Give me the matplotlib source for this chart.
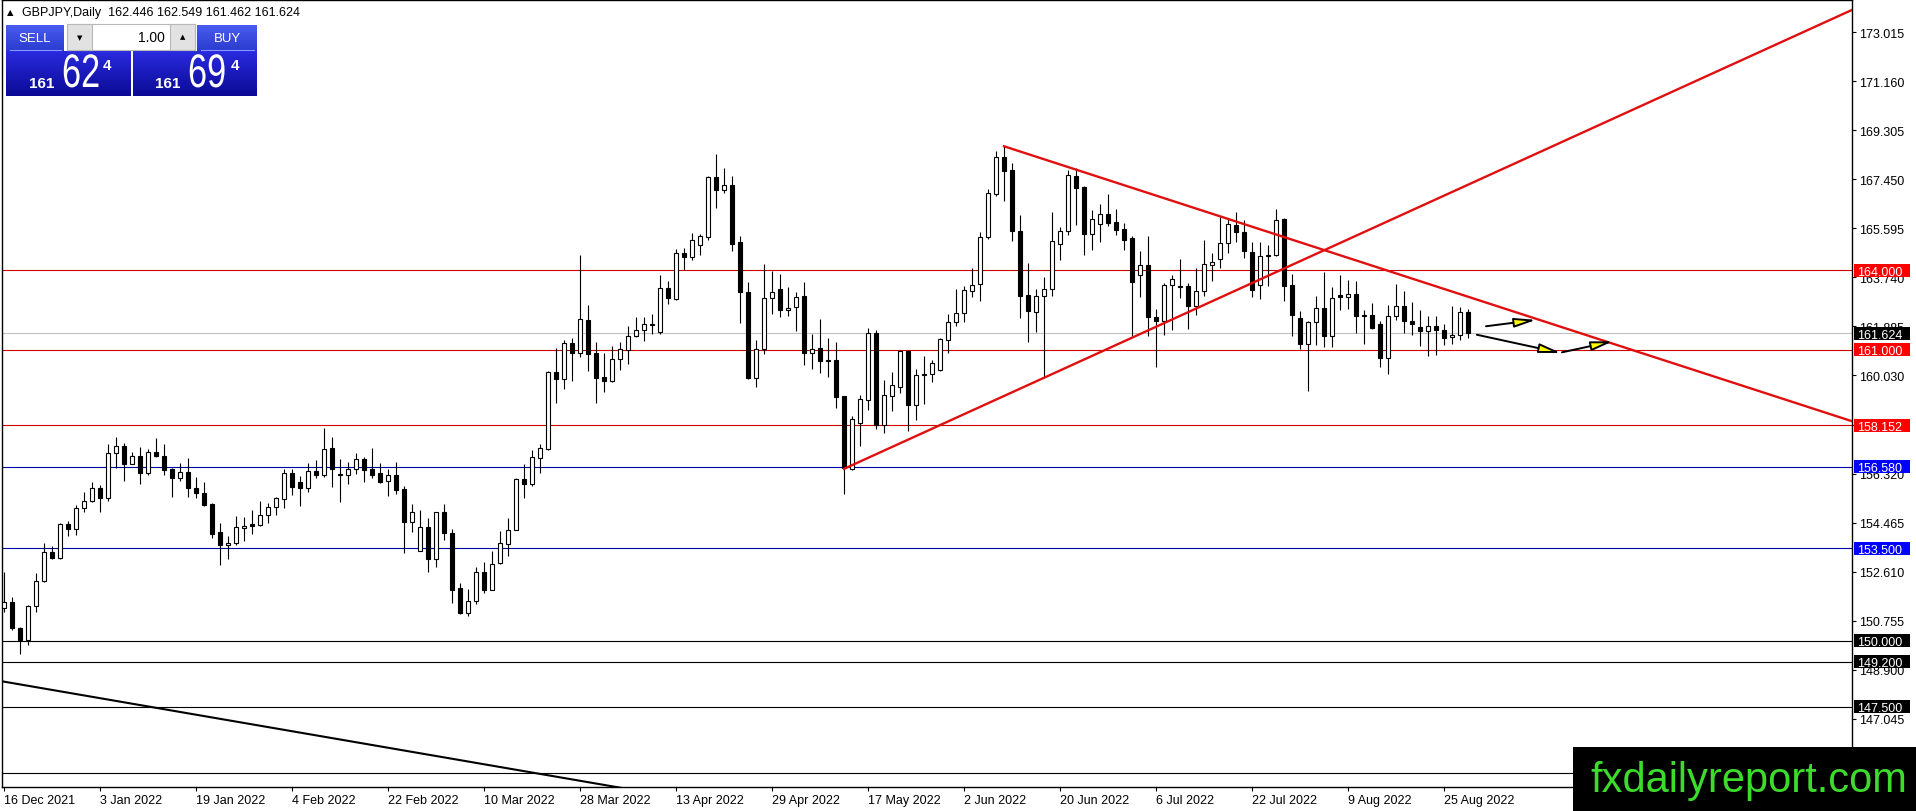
"""GBPJPY daily candlestick chart in a MetaTrader-like style."""

import numpy as np
import matplotlib

matplotlib.use("Agg")
import matplotlib.pyplot as plt
from matplotlib.colors import LinearSegmentedColormap
from matplotlib.font_manager import FontProperties
from matplotlib.patches import ArrowStyle, FancyArrowPatch, PathPatch, Rectangle
from matplotlib.textpath import TextPath
from matplotlib.transforms import Affine2D

plt.rcParams["font.family"] = ["Liberation Sans", "DejaVu Sans"]

symbol = "GBPJPY,Daily"
lot_size = "1.00"
ask_price = 161.694

opens = [
    151.228, 151.454, 150.472, 150.031, 151.328, 152.260, 153.369, 153.117,
    154.401, 154.225, 155.031, 155.295, 155.762, 155.409, 157.109, 157.373,
    156.681, 156.996, 156.353, 157.147, 156.996, 156.479, 156.164, 156.391,
    155.787, 155.598, 155.157, 154.099, 153.620, 153.709, 154.275, 154.401,
    154.376, 154.754, 155.069, 155.346, 156.328, 156.014, 155.787, 156.429,
    156.266, 157.298, 156.316, 156.266, 156.480, 156.883, 156.480, 156.354,
    156.052, 156.278, 155.724, 154.491, 153.395, 154.314, 153.093, 154.856,
    154.088, 152.010, 151.066, 151.519, 152.615, 151.922, 152.955, 153.672,
    154.188, 156.102, 155.926, 156.920, 157.235, 160.169, 159.892, 161.264,
    160.886, 162.145, 160.870, 159.961, 159.823, 160.643, 160.996, 161.539,
    161.766, 161.990, 161.690, 163.318, 162.915, 164.643, 164.492, 164.972,
    165.275, 167.521, 167.054, 167.218, 165.072, 163.192, 159.936, 161.047,
    162.940, 163.293, 162.511, 162.637, 163.028, 160.895, 161.085, 160.580,
    160.618, 159.255, 156.478, 158.245, 159.103, 161.627, 158.157, 159.268,
    159.608, 160.971, 158.914, 160.050, 160.080, 160.240, 161.375, 162.069,
    162.410, 163.230, 163.495, 165.262, 166.903, 168.278, 167.786, 165.477,
    163.054, 162.448, 163.016, 163.306, 165.010, 165.477, 167.559, 167.155,
    165.376, 165.767, 166.133, 165.830, 165.578, 165.224, 163.811, 164.215,
    162.233, 162.105, 163.460, 163.398, 163.398, 162.670, 163.209, 164.214,
    164.427, 165.054, 165.720, 165.468, 164.690, 163.435, 164.565, 164.590,
    165.933, 163.435, 162.205, 161.201, 162.042, 162.582, 161.540, 163.059,
    163.009, 163.109, 162.293, 162.331, 161.980, 160.674, 162.293, 162.645,
    162.080, 161.854, 161.729, 161.892, 161.741, 161.478, 161.578, 162.446,
]
highs = [
    152.613, 151.668, 150.535, 151.353, 152.550, 153.683, 153.583, 154.439,
    154.527, 155.132, 155.635, 155.988, 155.887, 157.424, 157.714, 157.462,
    157.147, 157.336, 157.248, 157.676, 157.424, 156.542, 156.706, 156.895,
    156.202, 156.013, 155.195, 154.464, 153.973, 154.729, 154.691, 154.943,
    155.295, 155.195, 155.447, 156.479, 156.479, 156.228, 156.706, 156.820,
    158.028, 157.688, 156.858, 156.769, 157.097, 156.958, 157.273, 156.706,
    156.480, 156.744, 155.863, 155.158, 154.944, 154.654, 154.881, 155.183,
    154.214, 152.199, 151.947, 152.778, 152.967, 153.395, 154.163, 154.654,
    156.140, 156.669, 157.210, 157.449, 160.206, 161.050, 161.352, 161.453,
    164.575, 162.700, 161.312, 160.870, 161.160, 161.287, 161.918, 162.233,
    162.258, 162.347, 163.836, 163.583, 164.808, 164.845, 165.413, 165.388,
    167.584, 168.404, 167.874, 167.559, 165.287, 163.558, 161.362, 164.240,
    163.987, 163.861, 163.369, 163.180, 163.558, 161.589, 162.157, 161.463,
    161.287, 159.267, 158.498, 159.293, 161.817, 161.754, 159.861, 160.176,
    160.997, 160.997, 160.265, 160.770, 160.618, 161.464, 162.347, 163.281,
    163.394, 164.089, 165.452, 167.080, 168.531, 168.695, 168.064, 166.083,
    164.278, 163.306, 163.735, 166.209, 165.653, 167.811, 167.875, 167.181,
    166.297, 166.512, 166.890, 166.322, 165.792, 165.287, 164.745, 165.287,
    162.549, 163.523, 163.837, 164.427, 163.523, 164.088, 165.155, 164.653,
    166.033, 165.970, 166.196, 165.908, 165.092, 165.067, 164.966, 166.309,
    165.996, 163.862, 162.456, 162.080, 163.021, 163.925, 163.360, 163.812,
    163.624, 163.586, 162.519, 162.770, 162.080, 162.707, 163.498, 163.209,
    162.795, 162.494, 162.268, 162.268, 161.980, 162.645, 162.607, 162.549,
]
lows = [
    151.076, 150.409, 149.502, 149.842, 151.076, 152.235, 153.092, 153.092,
    153.973, 153.998, 154.855, 155.258, 154.880, 155.283, 156.542, 156.039,
    156.668, 155.913, 156.265, 156.960, 156.265, 155.447, 156.039, 155.447,
    155.384, 155.094, 153.872, 152.865, 153.092, 153.620, 153.772, 154.023,
    154.351, 154.439, 154.754, 155.031, 155.510, 155.095, 155.636, 156.140,
    156.190, 155.800, 155.233, 155.926, 156.291, 155.989, 156.140, 155.951,
    155.473, 155.536, 153.320, 154.100, 153.395, 152.615, 152.804, 153.811,
    151.444, 151.016, 150.940, 151.381, 151.822, 151.922, 152.892, 153.219,
    154.188, 155.384, 155.863, 156.329, 157.197, 158.973, 159.514, 159.816,
    160.710, 160.214, 158.977, 159.419, 159.797, 160.239, 160.466, 161.476,
    161.350, 161.602, 161.602, 162.738, 162.889, 164.000, 164.404, 164.593,
    165.161, 166.360, 166.928, 164.744, 162.031, 159.898, 159.608, 160.845,
    162.347, 162.233, 162.284, 161.716, 160.428, 160.277, 160.113, 159.961,
    158.813, 155.532, 156.453, 157.374, 158.725, 158.005, 157.842, 158.687,
    159.356, 157.930, 158.346, 158.952, 159.773, 160.214, 160.896, 161.905,
    162.044, 162.991, 162.852, 165.199, 166.827, 166.638, 165.123, 162.196,
    161.300, 161.666, 159.949, 163.016, 164.404, 165.325, 165.729, 164.593,
    164.757, 165.073, 165.666, 165.325, 164.757, 161.527, 162.978, 161.539,
    160.366, 161.553, 161.766, 162.958, 161.804, 162.331, 163.046, 163.611,
    164.088, 164.653, 165.092, 164.464, 162.984, 162.933, 163.423, 164.565,
    162.833, 161.515, 161.038, 159.444, 161.176, 161.101, 161.101, 162.519,
    162.557, 161.641, 161.227, 161.779, 160.348, 160.072, 162.143, 161.641,
    161.578, 161.139, 160.762, 160.787, 161.164, 161.201, 161.352, 161.462,
]
closes = [
    151.454, 150.472, 150.031, 151.328, 152.273, 153.369, 153.117, 154.401,
    154.225, 155.031, 155.295, 155.787, 155.409, 157.109, 157.373, 156.681,
    156.996, 156.353, 157.147, 156.983, 156.454, 156.164, 156.391, 155.787,
    155.598, 155.132, 154.036, 153.620, 153.709, 154.313, 154.351, 154.351,
    154.754, 155.069, 155.384, 156.328, 155.799, 155.762, 156.429, 156.266,
    157.260, 156.492, 156.266, 156.480, 156.870, 156.455, 156.266, 156.014,
    156.278, 155.699, 154.491, 154.881, 154.314, 153.093, 154.856, 154.088,
    151.922, 151.041, 151.519, 152.615, 151.922, 152.917, 153.685, 154.188,
    156.102, 155.926, 156.958, 157.273, 160.169, 159.892, 161.264, 160.886,
    162.171, 160.836, 159.949, 159.823, 160.643, 161.022, 161.539, 161.766,
    161.981, 161.950, 163.318, 162.940, 164.643, 164.492, 165.136, 165.287,
    167.521, 167.054, 167.218, 165.009, 163.192, 159.936, 161.047, 162.940,
    163.167, 162.511, 162.599, 163.015, 160.895, 161.022, 160.580, 160.600,
    159.217, 156.516, 158.384, 159.129, 161.627, 158.157, 159.293, 159.672,
    160.971, 158.914, 160.050, 160.080, 160.517, 161.401, 162.069, 162.410,
    163.243, 163.432, 165.262, 166.928, 168.278, 167.774, 165.477, 163.041,
    162.473, 163.016, 163.306, 165.098, 165.477, 167.597, 167.117, 165.376,
    165.944, 166.133, 165.792, 165.540, 165.161, 163.546, 164.202, 162.233,
    162.107, 163.460, 163.674, 163.360, 162.670, 163.209, 164.239, 164.301,
    165.054, 165.745, 165.468, 164.753, 163.272, 164.565, 164.590, 165.908,
    163.423, 162.331, 161.201, 162.042, 162.582, 161.540, 162.958, 163.009,
    163.097, 162.293, 162.330, 161.829, 160.674, 162.268, 162.645, 162.080,
    161.992, 161.729, 161.892, 161.741, 161.452, 161.578, 162.419, 161.624,
]

# one date label every 12 daily bars, starting at the first bar
date_labels = [
    "16 Dec 2021", "3 Jan 2022", "19 Jan 2022", "4 Feb 2022", "22 Feb 2022",
    "10 Mar 2022", "28 Mar 2022", "13 Apr 2022", "29 Apr 2022", "17 May 2022",
    "2 Jun 2022", "20 Jun 2022", "6 Jul 2022", "22 Jul 2022", "9 Aug 2022",
    "25 Aug 2022",
]
date_step = 12

price_ticks = [
    173.015, 171.160, 169.305, 167.450, 165.595, 163.740, 161.885, 160.030,
    158.175, 156.320, 154.465, 152.610, 150.755, 148.900, 147.045,
]

levels = [164.000, 161.000, 158.152, 156.580, 153.500, 150.000, 149.200, 147.500, 145.000]
level_colors = ["#d00000", "#d00000", "#d00000", "#0000a8", "#0000a8",
                "black", "black", "black", "black"]
label_colors = ["#ff0000", "#ff0000", "#ff0000", "#0000ff", "#0000ff",
                "black", "black", "black", "black"]

# hand-drawn trend lines (bar index, price)
trend_up_x, trend_up_y = [105, 231], [156.50, 173.85]
trend_down_x, trend_down_y = [125, 231], [168.695, 158.30]
trend_black_x, trend_black_y = [-0.5, 80], [148.48, 144.29]

# projection arrows: (start bar, start price, end bar, end price)
arrows = [
    (185.25, 161.89, 191.5, 162.13),
    (184.1, 161.57, 194.6, 160.88),
    (194.75, 160.905, 201.1, 161.32),
]

W, H = 1916, 812
fig = plt.figure(figsize=(W / 100, H / 100), dpi=100, facecolor="white")
ax = fig.add_axes([2 / W, 1 - 788 / H, 1850 / W, 787 / H])
ax.set_xlim(-0.25, 231)
ax.set_ylim(144.471, 174.225)

n = len(closes)
x = np.arange(n)
o = np.array(opens)
c = np.array(closes)
up = c >= o

# horizontal levels and current price line
for lv, col in zip(levels, level_colors):
    ax.axhline(lv, color=col, lw=0.8, zorder=1)
ax.axhline(closes[-1], color="#c0c0c0", lw=0.8, zorder=1)

# candles
ax.vlines(x, lows, highs, color="black", lw=0.8, zorder=2)
ax.bar(x, np.abs(c - o), bottom=np.minimum(o, c), width=0.56,
       color=np.where(up, "white", "black"), edgecolor="black", lw=0.8, zorder=3)

# trend lines
ax.plot(trend_up_x, trend_up_y, color="#e01010", lw=1.7, zorder=4)
ax.plot(trend_down_x, trend_down_y, color="#e01010", lw=1.7, zorder=4)
ax.plot(trend_black_x, trend_black_y, color="black", lw=1.5, zorder=4)

head = ArrowStyle("-|>", head_length=13, head_width=2.8)
for x0, y0, x1, y1 in arrows:
    ax.add_patch(FancyArrowPatch((x0, y0), (x1, y1), arrowstyle=head, mutation_scale=1,
                                 shrinkA=0, shrinkB=0, lw=1.4, edgecolor="black",
                                 facecolor="#ffff00", zorder=5))

# axes styling
for sp in ax.spines.values():
    sp.set_color("black")
    sp.set_linewidth(1)
ax.yaxis.tick_right()
ax.set_yticks(price_ticks)
ax.set_yticklabels([f"{v:.3f}" for v in price_ticks])
ax.set_xticks(np.arange(len(date_labels)) * date_step)
ax.set_xticklabels(date_labels, ha="left")
ax.tick_params(axis="y", direction="out", length=3, pad=2, labelsize=9, colors="black")
ax.tick_params(axis="x", direction="out", length=3, pad=2, labelsize=9, colors="black")

# coloured price labels on the right scale
ytr = ax.get_yaxis_transform()
half = 6.5 / 26.45
box_x0 = (1854 - 2) / 1850
box_w = 56 / 1850
txt_x = (1857 - 2) / 1850
for lv, col in zip(levels + [closes[-1]], label_colors + ["black"]):
    ax.add_patch(Rectangle((box_x0, lv - half), box_w, 2 * half, transform=ytr,
                           facecolor=col, edgecolor="none", clip_on=False, zorder=6))
    ax.text(txt_x, lv, f"{lv:.3f}", transform=ytr, color="white", fontsize=9,
            ha="left", va="center_baseline", clip_on=False, zorder=7)

# overlay in pixel coordinates for the trading panel, header and watermark
ov = fig.add_axes([0, 0, 1, 1], zorder=10)
ov.patch.set_visible(False)
ov.axis("off")


def grad_box(x0, y0, x1, y1, top, bottom):
    cmap = LinearSegmentedColormap.from_list("g", [top, bottom])
    ov.imshow(np.linspace(0, 1, 64).reshape(-1, 1), cmap=cmap, aspect="auto",
              extent=(x0, x1, y1, y0), interpolation="bilinear", zorder=1)


def squeezed(xs, ybase, s, size, sx, color):
    tp = TextPath((0, 0), s, size=size, prop=FontProperties(family="Liberation Sans"))
    tr = Affine2D().scale(sx, -1).translate(xs, ybase) + ov.transData
    ov.add_patch(PathPatch(tp, transform=tr, facecolor=color, lw=0, zorder=3))


ov.text(7, 13, "\u25b2", fontsize=6, family="DejaVu Sans", va="center", ha="left")
ov.text(22, 13, f"{symbol}  {opens[-1]:.3f} {highs[-1]:.3f} {lows[-1]:.3f} {closes[-1]:.3f}",
        fontsize=9, va="center", ha="left")

# top SELL / BUY buttons
grad_box(6, 26, 64, 52, "#4a5cf0", "#2a3bd0")
grad_box(197, 26, 257, 52, "#4a5cf0", "#2a3bd0")
ov.plot([10, 61], [51, 51], color="#8a96ff", lw=0.8, zorder=2)
ov.plot([201, 254], [51, 51], color="#8a96ff", lw=0.8, zorder=2)
ov.text(35, 39, "SELL", color="white", fontsize=9.5, ha="center", va="center", zorder=3)
ov.text(227, 39, "BUY", color="white", fontsize=9.5, ha="center", va="center", zorder=3)

# lot size control
ov.add_patch(Rectangle((67, 25), 128, 26, facecolor="white", edgecolor="#b8b8b8", lw=0.8, zorder=2))
ov.add_patch(Rectangle((67, 25), 25, 26, facecolor="#e2e2e2", edgecolor="#b8b8b8", lw=0.8, zorder=2))
ov.add_patch(Rectangle((170, 25), 25, 26, facecolor="#e2e2e2", edgecolor="#b8b8b8", lw=0.8, zorder=2))
ov.text(80, 38, "\u25bc", fontsize=5, family="DejaVu Sans", ha="center", va="center", zorder=3)
ov.text(183, 37, "\u25b2", fontsize=5, family="DejaVu Sans", ha="center", va="center", zorder=3)
ov.text(165, 38, lot_size, fontsize=10, ha="right", va="center", zorder=3)

# bid / ask price boxes
grad_box(6, 52, 131, 97, "#2a2ae0", "#0a0a94")
grad_box(133, 52, 257, 97, "#2a2ae0", "#0a0a94")
for px, x_big, x_sup, x_small in [(closes[-1], 62, 107, 42), (ask_price, 188, 235, 168)]:
    s = f"{px:.3f}"
    big, pts = s.split(".")[0], s.split(".")[1]
    ov.text(x_small, 88, big, color="white", fontsize=11, weight="bold",
            ha="center", va="baseline", zorder=3)
    squeezed(x_big, 88, pts[:2], 47, 0.73, "white")
    ov.text(x_sup, 70, pts[2], color="white", fontsize=11, weight="bold",
            ha="center", va="baseline", zorder=3)

# watermark
ov.add_patch(Rectangle((1573, 748), 343, 64, facecolor="black", edgecolor="none", zorder=5))
ov.text(1749, 792, "fxdailyreport.com", color="#3ddc2c", fontsize=30,
        ha="center", va="baseline", zorder=6)

ov.set_xlim(0, W)
ov.set_ylim(H, 0)

fig.savefig("out.png", dpi=100, facecolor="white")
